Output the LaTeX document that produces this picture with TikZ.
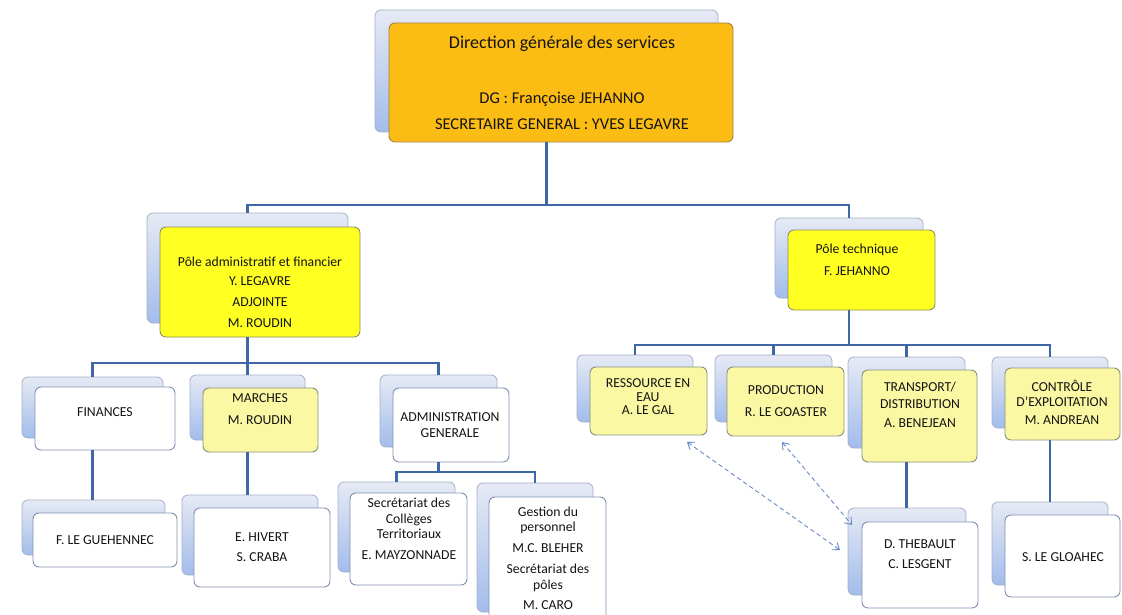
\documentclass[tikz,border=0pt]{standalone}
\usepackage{fontspec}
\setmainfont{Carlito}
\usetikzlibrary{fit,arrows.meta}
\definecolor{connc}{HTML}{3F66A6}
\definecolor{backtop}{HTML}{E6EAF4}
\definecolor{backbot}{HTML}{A2BCEB}
\definecolor{backdraw}{HTML}{A3B0CC}
\definecolor{orgfill}{HTML}{FBBD14}
\definecolor{orgdraw}{HTML}{A08448}
\definecolor{yelfill}{HTML}{FFFF22}
\definecolor{yeldraw}{HTML}{8E8E5E}
\definecolor{lyfill}{HTML}{FAF8A2}
\definecolor{lydraw}{HTML}{8A9080}
\definecolor{whdraw}{HTML}{8090B2}
\definecolor{txtc}{HTML}{141414}
\definecolor{dashc}{HTML}{6A8AC8}
\newcommand\tl[4]{\node[tx] (#1) at (#2,#3+4.4) {#4};}
\begin{document}
\begin{tikzpicture}[x=1pt,y=-1pt,
  backbox/.style={draw=backdraw, line width=0.8pt, rounded corners=6pt, top color=backtop, bottom color=backbot, inner sep=0pt, outer sep=0pt},
  frontbox/.style={line width=0.9pt, rounded corners=6pt, inner sep=0pt, outer sep=0pt},
  orgbox/.style={frontbox, draw=orgdraw, fill=orgfill},
  yelbox/.style={frontbox, draw=yeldraw, fill=yelfill},
  lybox/.style={frontbox, draw=lydraw, fill=lyfill},
  whbox/.style={frontbox, draw=whdraw, fill=white},
  conn/.style={draw=connc, line width=2.7pt},
  darr/.style={draw=dashc, line width=0.9pt, dash pattern=on 4.5pt off 3pt, {Straight Barb[length=6pt,width=9pt]}-{Straight Barb[length=6pt,width=9pt]}},
  tx/.style={anchor=base, inner sep=0pt, text=txtc, font=\fontsize{13.7}{16}\selectfont},
  txbig/.style={anchor=base, inner sep=0pt, text=txtc, font=\fontsize{18}{21}\selectfont},
  txmid/.style={anchor=base, inner sep=0pt, text=txtc, font=\fontsize{16.5}{19}\selectfont}
]
\fill[white] (0,0) rectangle (1122,615);
\useasboundingbox (0,0) rectangle (1122,615);

% ---- boxes (back, front)
\node[backbox, fit={(375,10)(718,132)}] (dgS) {};
\node[orgbox, fit={(389,23)(733,142)}] (dg) {};
\node[backbox, fit={(147,213)(348,323)}] (paS) {};
\node[yelbox, fit={(160,227)(360,337)}] (pa) {};
\node[backbox, fit={(775,218)(923,298)}] (ptS) {};
\node[yelbox, fit={(788,230)(935,310)}] (pt) {};

\node[backbox, fit={(22,377)(163,438)}] (finS) {};
\node[whbox, fit={(35,387)(175,450)}] (fin) {};
\node[backbox, fit={(190,375)(305,440)}] (marS) {};
\node[lybox, fit={(203,388)(318,452)}] (mar) {};
\node[backbox, fit={(380,375)(497,447)}] (admS) {};
\node[whbox, fit={(393,388)(509,462)}] (adm) {};

\node[backbox, fit={(22,500)(165,555)}] (flgS) {};
\node[whbox, fit={(33,513)(177,567)}] (flg) {};
\node[backbox, fit={(182,495)(318,575)}] (hivS) {};
\node[whbox, fit={(194,508)(330,587)}] (hiv) {};
\node[backbox, fit={(338,482)(455,572)}] (secS) {};
\node[whbox, fit={(350,493)(467,585)}] (sec) {};
\node[backbox, fit={(477,483)(593,612)}] (gesS) {};
\node[whbox, fit={(489,497)(606,628)}] (ges) {};

\node[backbox, fit={(577,355)(693,422)}] (resS) {};
\node[lybox, fit={(590,367)(707,435)}] (res) {};
\node[backbox, fit={(715,355)(832,422)}] (proS) {};
\node[lybox, fit={(727,367)(844,436)}] (pro) {};
\node[backbox, fit={(848,357)(965,448)}] (traS) {};
\node[lybox, fit={(862,370)(977,462)}] (tra) {};
\node[backbox, fit={(992,357)(1108,428)}] (conS) {};
\node[lybox, fit={(1005,368)(1120,440)}] (con) {};

\node[backbox, fit={(848,508)(966,595)}] (theS) {};
\node[whbox, fit={(862,522)(978,608)}] (the) {};
\node[backbox, fit={(992,502)(1108,585)}] (gloS) {};
\node[whbox, fit={(1005,515)(1120,597)}] (glo) {};

% ---- connectors
\coordinate (j0) at (0,205);
\coordinate (j1) at (0,363);
\coordinate (j2) at (0,345);
\coordinate (j3) at (0,472);
\draw[conn] (dgS.center |- dg.south) -- (dgS.center |- j0) -| (paS.north)
            (dgS.center |- j0) -| (ptS.north);
\draw[conn] (paS.center |- pa.south) -- (paS.center |- j1)
            (finS.north) |- (admS.north |- j1) -- (admS.north)
            (marS.north) -- (marS.north |- j1);
\draw[conn] (ptS.center |- pt.south) -- (ptS.center |- j2)
            (resS.north) |- (conS.north |- j2) -- (conS.north)
            (proS.north) -- (proS.north |- j2)
            (traS.north) -- (traS.north |- j2);
\draw[conn] (finS.center |- fin.south) -- (finS.center |- flgS.north);
\draw[conn] (marS.center |- mar.south) -- (marS.center |- hivS.north);
\draw[conn] (admS.center |- adm.south) -- (admS.center |- j3)
            (secS.north) |- (gesS.north |- j3) -- (gesS.north);
\draw[conn] (traS.center |- tra.south) -- (traS.center |- theS.north);
\draw[conn] (conS.center |- con.south) -- (conS.center |- gloS.north);

% ---- dashed arrows
\coordinate (a1) at (687,442);
\coordinate (b1) at (840,550);
\coordinate (a2) at (782,442);
\coordinate (b2) at (852,525);
\draw[darr] (a1) -- (b1);
\draw[darr] (a2) -- (b2);

% ---- texts
\node[txbig] (dgt1) at (562,43+5.8) {Direction générale des services};
\node[txmid] (dgt2) at (562,98+5.3) {DG : Françoise JEHANNO};
\node[txmid] (dgt3) at (562,124+5.3) {SECRETAIRE GENERAL : YVES LEGAVRE};

\tl{pat1}{260}{262}{Pôle administratif et financier}
\tl{pat2}{260}{281}{Y. LEGAVRE}
\tl{pat3}{260}{302}{ADJOINTE}
\tl{pat4}{260}{323}{M. ROUDIN}

\tl{ptt1}{857}{249}{Pôle technique}
\tl{ptt2}{857}{271}{F. JEHANNO}

\tl{fint}{105}{412}{FINANCES}
\tl{mart1}{260}{398}{MARCHES}
\tl{mart2}{260}{420}{M. ROUDIN}
\tl{admt1}{450}{417}{ADMINISTRATION}
\tl{admt2}{450}{433}{GENERALE}

\tl{flgt}{105}{540}{F. LE GUEHENNEC}
\tl{hivt1}{262}{537}{E. HIVERT}
\tl{hivt2}{262}{557}{S. CRABA}
\tl{sect1}{409}{503}{Secrétariat des}
\tl{sect2}{409}{519}{Collèges}
\tl{sect3}{409}{534}{Territoriaux}
\tl{sect4}{409}{555}{E. MAYZONNADE}
\tl{gest1}{548}{512}{Gestion du}
\tl{gest2}{548}{527}{personnel}
\tl{gest3}{548}{548}{M.C. BLEHER}
\tl{gest4}{548}{569}{Secrétariat des}
\tl{gest5}{548}{585}{pôles}
\tl{gest6}{548}{605}{M. CARO}

\tl{rest1}{648}{383}{RESSOURCE EN}
\tl{rest2}{648}{397}{EAU}
\tl{rest3}{648}{410}{A. LE GAL}
\tl{prot1}{786}{390}{PRODUCTION}
\tl{prot2}{786}{412}{R. LE GOASTER}
\tl{trat1}{920}{387}{TRANSPORT/}
\tl{trat2}{920}{404}{DISTRIBUTION}
\tl{trat3}{920}{423}{A. BENEJEAN}
\tl{cont1}{1062}{387}{CONTRÔLE}
\tl{cont2}{1062}{402}{D’EXPLOITATION}
\tl{cont3}{1062}{420}{M. ANDREAN}

\tl{thet1}{920}{544}{D. THEBAULT}
\tl{thet2}{920}{564}{C. LESGENT}
\tl{glot}{1063}{557}{S. LE GLOAHEC}
\end{tikzpicture}
\end{document}
